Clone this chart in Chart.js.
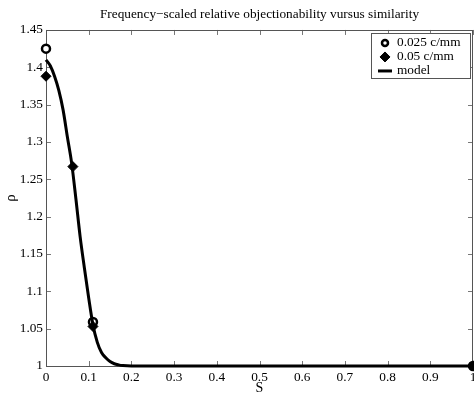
<!DOCTYPE html>
<html><head><meta charset="utf-8">
<script src="https://cdn.jsdelivr.net/npm/chart.js@4/dist/chart.umd.min.js"></script>
<style>html,body{margin:0;padding:0;background:#fff}#w{width:474px;height:394px}</style>
</head><body><div id="w"><canvas id="c"></canvas></div>
<script>
const titleText = "Frequency\u2212scaled relative objectionability vursus similarity";
const seriesNames = ["0.025 c/mm", "0.05 c/mm", "model"];
const s025X = [0, 0.11, 1];
const s025Y = [1.425, 1.059, 1];
const s05X = [0, 0.063, 0.11, 1];
const s05Y = [1.388, 1.267, 1.053, 1];
const modelX = [0, 0.01, 0.02, 0.03, 0.04, 0.05, 0.06, 0.07, 0.08, 0.09, 0.1, 0.11, 0.12, 0.13, 0.14, 0.15, 0.16, 0.17, 0.18, 0.2, 0.25, 0.3, 0.4, 0.5, 0.6, 0.7, 0.8, 0.9, 1];
const modelY = [1.410, 1.402, 1.388, 1.369, 1.343, 1.307, 1.272, 1.224, 1.173, 1.131, 1.091, 1.055, 1.032, 1.018, 1.011, 1.006, 1.003, 1.0015, 1.0006, 1.0, 1, 1, 1, 1, 1, 1, 1, 1, 1];
const xTicks = [0, 0.1, 0.2, 0.3, 0.4, 0.5, 0.6, 0.7, 0.8, 0.9, 1];
const yTicks = [1, 1.05, 1.1, 1.15, 1.2, 1.25, 1.3, 1.35, 1.4, 1.45];

const FONT = "'Liberation Serif', 'Times New Roman', serif";
const pts = (xs, ys) => xs.map((x, i) => ({x, y: ys[i]}));

const frame = {
  id: 'frame',
  beforeDatasetsDraw(chart) {
    const {ctx, chartArea: a, scales} = chart;
    ctx.save();
    ctx.strokeStyle = '#777';
    ctx.lineWidth = 1;
    const L = 5;
    ctx.beginPath();
    scales.x.ticks.forEach(t => {
      const px = Math.round(scales.x.getPixelForValue(t.value)) + 0.5;
      ctx.moveTo(px, a.bottom); ctx.lineTo(px, a.bottom - L);
      ctx.moveTo(px, a.top); ctx.lineTo(px, a.top + L);
    });
    scales.y.ticks.forEach(t => {
      const py = Math.round(scales.y.getPixelForValue(t.value)) + 0.5;
      ctx.moveTo(a.left, py); ctx.lineTo(a.left + L, py);
      ctx.moveTo(a.right, py); ctx.lineTo(a.right - L, py);
    });
    ctx.stroke();
    ctx.strokeStyle = '#555';
    ctx.strokeRect(Math.round(a.left) + 0.5, Math.round(a.top) + 0.5, Math.round(a.right - a.left) - 1, Math.round(a.bottom - a.top));
    ctx.restore();
  },
  afterDraw(chart) {
    const {ctx, chartArea: a} = chart;
    const ds = chart.data.datasets;
    const bx = 371, by = a.top + 3, bw = 99, bh = 45;
    ctx.save();
    ctx.fillStyle = '#fff';
    ctx.fillRect(bx, by, bw, bh);
    ctx.strokeStyle = '#555'; ctx.lineWidth = 1;
    ctx.strokeRect(Math.round(bx) + 0.5, Math.round(by) + 0.5, bw, bh);
    ctx.font = "13.3px " + FONT;
    ctx.textBaseline = 'middle';
    const mx = bx + 14, tx = bx + 26;
    ds.forEach((d, i) => {
      const y = by + 10 + i * 14;
      if (d.showLine === false) {
        ctx.fillStyle = d.pointBackgroundColor; ctx.strokeStyle = '#000'; ctx.lineWidth = d.pointBorderWidth;
        ctx.beginPath();
        if (d.pointStyle === 'circle') { ctx.arc(mx, y, 3, 0, Math.PI * 2); }
        else { const r = d.pointRadius; ctx.moveTo(mx, y - r); ctx.lineTo(mx + r, y); ctx.lineTo(mx, y + r); ctx.lineTo(mx - r, y); ctx.closePath(); }
        ctx.fill(); ctx.stroke();
      } else {
        ctx.strokeStyle = '#000'; ctx.lineWidth = d.borderWidth;
        ctx.beginPath(); ctx.moveTo(bx + 7, y); ctx.lineTo(bx + 21, y); ctx.stroke();
      }
      ctx.fillStyle = '#000';
      ctx.fillText(d.label, tx, y);
    });
    ctx.restore();
  }
};

new Chart(document.getElementById('c'), {
  type: 'scatter',
  data: {
    datasets: [
      { label: seriesNames[0], order: 2, data: pts(s025X, s025Y), showLine: false, pointStyle: 'circle', pointRadius: 4, pointBorderWidth: 2.5, pointBackgroundColor: '#fff', pointBorderColor: '#000', borderColor: '#000', clip: false },
      { label: seriesNames[1], order: 1, data: pts(s05X, s05Y), showLine: false, pointStyle: 'rectRot', pointRadius: 5, pointBorderWidth: 1, pointBackgroundColor: '#000', pointBorderColor: '#000', borderColor: '#000', clip: false },
      { label: seriesNames[2], order: 0, data: pts(modelX, modelY), showLine: true, pointRadius: 0, borderColor: '#000', borderWidth: 3, cubicInterpolationMode: 'monotone', clip: false }
    ]
  },
  options: {
    responsive: true, maintainAspectRatio: false, animation: false,
    layout: { padding: { right: 1, left: 0, top: 0, bottom: 0 }, autoPadding: false },
    plugins: {
      legend: { display: false },
      tooltip: { enabled: false },
      title: { display: true, text: titleText, fullSize: false, color: '#000', font: { family: FONT, size: 13.3, weight: 'normal', lineHeight: 1.2 }, padding: { top: 7, bottom: 7 } }
    },
    scales: {
      x: {
        type: 'linear', min: 0, max: 1,
        afterBuildTicks: s => { s.ticks = xTicks.map(v => ({value: v})); },
        afterFit: s => { s.height = 28; s.paddingLeft = 0; s.paddingRight = 0; },
        grid: { display: false, drawTicks: false },
        border: { display: false },
        ticks: { color: '#000', font: { family: FONT, size: 13.3 }, padding: 4, maxRotation: 0, autoSkip: false, callback: v => String(+v.toFixed(2)) },
        title: { display: true, text: 'S', color: '#000', font: { family: FONT, size: 14, lineHeight: 0.8 }, padding: { top: 0, bottom: 0 } }
      },
      y: {
        type: 'linear', min: 1, max: 1.45,
        afterBuildTicks: s => { s.ticks = yTicks.map(v => ({value: v})); },
        afterFit: s => { s.width = 46; s.paddingTop = 0; s.paddingBottom = 0; },
        grid: { display: false, drawTicks: false },
        border: { display: false },
        ticks: { color: '#000', font: { family: FONT, size: 13.3 }, padding: 3, autoSkip: false, callback: v => String(+v.toFixed(2)) },
        title: { display: true, text: '\u03c1', color: '#000', font: { family: FONT, size: 15 }, padding: { top: 2, bottom: 0 } }
      }
    }
  },
  plugins: [frame]
});
</script>
</body></html>
